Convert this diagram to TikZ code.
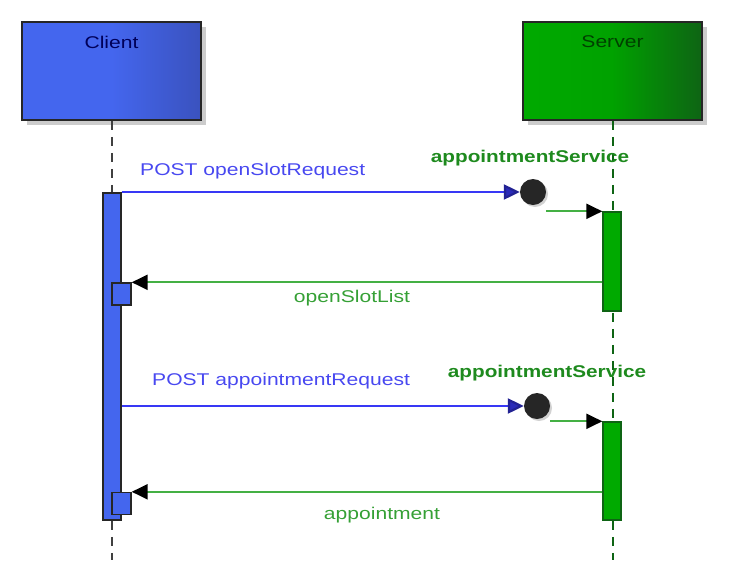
\documentclass[tikz,border=0pt]{standalone}
\usepackage{fontspec}
\setmainfont{Liberation Sans}
\usetikzlibrary{arrows.meta,shadows,calc}
\definecolor{cblue}{HTML}{4466EE}
\definecolor{cbluedark}{HTML}{3A52BE}
\definecolor{cgreen}{HTML}{00AA00}
\definecolor{cgreendark}{HTML}{0E6414}
\definecolor{msgblue}{HTML}{3838F5}
\definecolor{txtblue}{HTML}{4848F0}
\definecolor{msggreen}{HTML}{44B044}
\definecolor{lblgreen}{HTML}{35A035}
\definecolor{svcgreen}{HTML}{1E8A1E}
\newcommand{\widetxt}[1]{\scalebox{1.24}[1]{#1}}
\newcommand{\widebold}[1]{\scalebox{1.22}[1]{#1}}
\tikzset{
  x=1pt,y=-1pt,
  actor/.style={draw=black!85,line width=1.6pt,minimum width=179pt,minimum height=98pt,inner sep=0pt,
    drop shadow={shadow xshift=5pt,shadow yshift=-5pt,fill=black!25,opacity=0.8}},
  lifeline/.style={line width=2pt,dash pattern=on 9pt off 7pt},
  actbar/.style={draw=black!85,line width=1.4pt,minimum width=18pt,inner sep=0pt},
  endpt/.style={circle,fill=black!85,minimum size=26pt,inner sep=0pt,
    drop shadow={shadow xshift=2pt,shadow yshift=-2pt,fill=black!25,opacity=0.7}},
  bluemsg/.style={msgblue,line width=2.2pt,-{Triangle[length=16pt,width=15pt,fill=msgblue!75!black,color=msgblue!60!black]}},
  greenmsg/.style={msggreen,line width=2.2pt,-{Triangle[length=16pt,width=15pt,fill=black,color=black]}},
  txt/.style={font=\fontsize{17}{20}\selectfont,inner sep=0pt},
  btxt/.style={font=\fontsize{17}{20}\selectfont\bfseries,inner sep=0pt,text=svcgreen},
}
\begin{document}
\begin{tikzpicture}
\useasboundingbox (0,0) rectangle (730,560);
% actors
\node[actor,left color=cblue,right color=cbluedark,middle color=cblue] (client) at (111.5,71) {};
\node[actor,left color=cgreen,right color=cgreendark,middle color=cgreen!95!black] (server) at (612.5,71) {};
\node[txt,text=black!65!blue] (clientlbl) at (111.5,42) {\widetxt{Client}};
\node[txt,text=black!75!green] (serverlbl) at (612.5,42) {\widetxt{Server}};
% lifelines
\coordinate (cend) at (112,560);
\coordinate (send) at (613,560);
\draw[lifeline,black!75] (client.south -| cend) -- (cend);
\draw[lifeline,cgreendark] (server.south -| send) -- (send);
% activation bars
\node[actbar,fill=cblue,minimum height=327pt] (cbar) at (112,356.5) {};
\node[actbar,fill=cblue,minimum width=19pt,minimum height=22pt] (sq1) at (121.5,294) {};
\node[actbar,fill=cblue,minimum width=19pt,minimum height=22pt] (sq2) at (121.5,503.5) {};
\node[actbar,draw=cgreendark,fill=cgreen,minimum height=99pt] (sbar1) at (612,261.5) {};
\node[actbar,draw=cgreendark,fill=cgreen,minimum height=98pt] (sbar2) at (612,471) {};
% endpoints
\node[endpt] (c1) at (533,192) {};
\node[endpt] (c2) at (537,406) {};
% messages
\draw[bluemsg] (c1.west -| cbar.east) -- (c1.west);
\draw[greenmsg] (sbar1.north west -| c1.east) -- (sbar1.north west);
\draw[greenmsg] (sq1.north east -| sbar1.west) -- (sq1.north east);
\draw[bluemsg] (c2.west -| cbar.east) -- (c2.west);
\draw[greenmsg] (sbar2.north west -| c2.east) -- (sbar2.north west);
\draw[greenmsg] (sq2.north east -| sbar2.west) -- (sq2.north east);
% labels
\node[txt,text=txtblue,anchor=west] (l1) at (140,171) {\widetxt{POST openSlotRequest}};
\node[btxt] (s1) at (530,158) {\widebold{appointmentService}};
\node[txt,text=lblgreen] (l2) at (352,298) {\widetxt{openSlotList}};
\node[txt,text=txtblue,anchor=west] (l3) at (152,381) {\widetxt{POST appointmentRequest}};
\node[btxt] (s2) at (547,373) {\widebold{appointmentService}};
\node[txt,text=lblgreen] (l4) at (382,515) {\widetxt{appointment}};
\end{tikzpicture}
\end{document}
